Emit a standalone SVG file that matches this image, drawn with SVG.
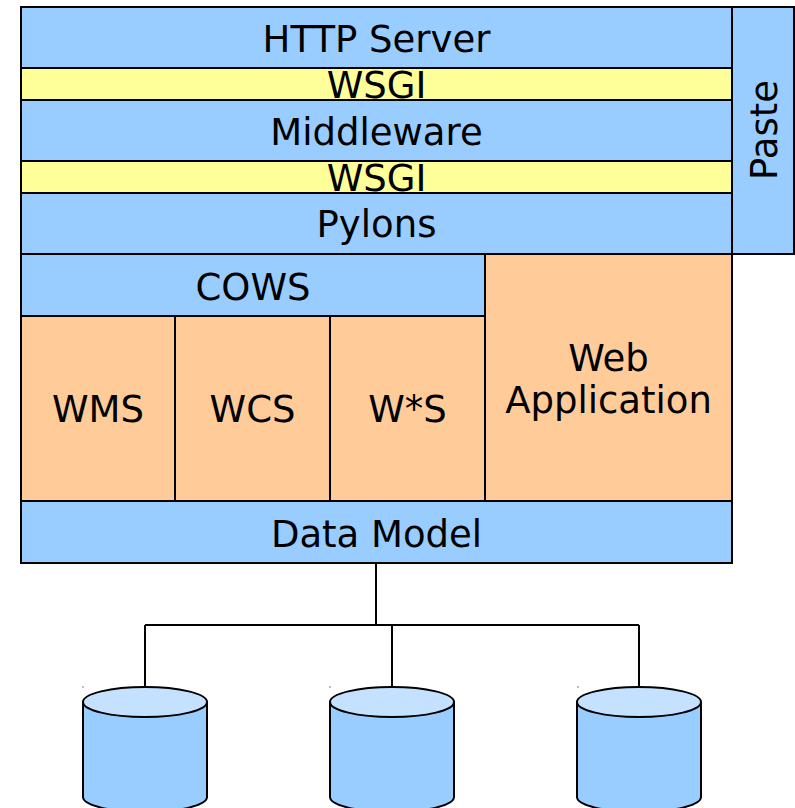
<svg xmlns="http://www.w3.org/2000/svg" width="795" height="808" viewBox="0 0 795 808">
<style>
.blue{fill:#99ccff;stroke:#000;stroke-width:2}
.yel{fill:#ffff99;stroke:#000;stroke-width:2}
.org{fill:#ffcc99;stroke:#000;stroke-width:2}
.t{font-family:"DejaVu Sans","Liberation Sans",sans-serif;font-size:37px;fill:#000;text-anchor:middle}
.cyl{fill:#99ccff;stroke:#000;stroke-width:2}
.cyltop{fill:#c4e1ff;stroke:#000;stroke-width:2}
.conn{fill:none;stroke:#000;stroke-width:2}
</style>
<rect width="795" height="808" fill="#fff"/>
<g id="http"><rect class="blue" x="21" y="7" width="711" height="61"/><text class="t" x="376.5" y="52">HTTP Server</text></g>
<g id="wsgi1"><rect class="yel" x="21" y="68" width="711" height="32"/><text class="t" x="376.5" y="98">WSGI</text></g>
<g id="middleware"><rect class="blue" x="21" y="100" width="711" height="61"/><text class="t" x="376.5" y="145">Middleware</text></g>
<g id="wsgi2"><rect class="yel" x="21" y="161" width="711" height="32"/><text class="t" x="376.5" y="191">WSGI</text></g>
<g id="pylons"><rect class="blue" x="21" y="193" width="711" height="61"/><text class="t" x="376.5" y="237">Pylons</text></g>
<g id="paste"><rect class="blue" x="732" y="7" width="62" height="247"/><text class="t" transform="translate(777,130) rotate(-90)" x="0" y="0">Paste</text></g>
<g id="cows"><rect class="blue" x="21" y="254" width="464" height="62"/><text class="t" x="253" y="300">COWS</text></g>
<g id="wms"><rect class="org" x="21" y="316" width="154" height="185"/><text class="t" x="98" y="422">WMS</text></g>
<g id="wcs"><rect class="org" x="175" y="316" width="155" height="185"/><text class="t" x="252.5" y="422">WCS</text></g>
<g id="wxs"><rect class="org" x="330" y="316" width="155" height="185"/><text class="t" x="407.5" y="422">W*S</text></g>
<g id="webapp"><rect class="org" x="485" y="254" width="247" height="247"/><text class="t" x="608.5" y="371">Web</text><text class="t" x="608.5" y="413">Application</text></g>
<g id="datamodel"><rect class="blue" x="21" y="501" width="711" height="62"/><text class="t" x="376.5" y="547">Data Model</text></g>
<g id="connectors">
<path class="conn" d="M376,563 V625 M145,625 H639 M145,625 V687 M392,625 V687 M639,625 V687"/>
</g>
<g id="db1"><path class="cyl" d="M83,702 V797 A62,15 0 0 0 207,797 V702"/><ellipse class="cyltop" cx="145" cy="702" rx="62" ry="15"/><rect x="82.5" y="686.5" width="1" height="1" fill="#000"/></g>
<g id="db2"><path class="cyl" d="M330,702 V797 A62,15 0 0 0 454,797 V702"/><ellipse class="cyltop" cx="392" cy="702" rx="62" ry="15"/><rect x="329.5" y="686.5" width="1" height="1" fill="#000"/></g>
<g id="db3"><path class="cyl" d="M577,702 V797 A62,15 0 0 0 701,797 V702"/><ellipse class="cyltop" cx="639" cy="702" rx="62" ry="15"/><rect x="577.5" y="686.5" width="1" height="1" fill="#000"/></g>
</svg>
